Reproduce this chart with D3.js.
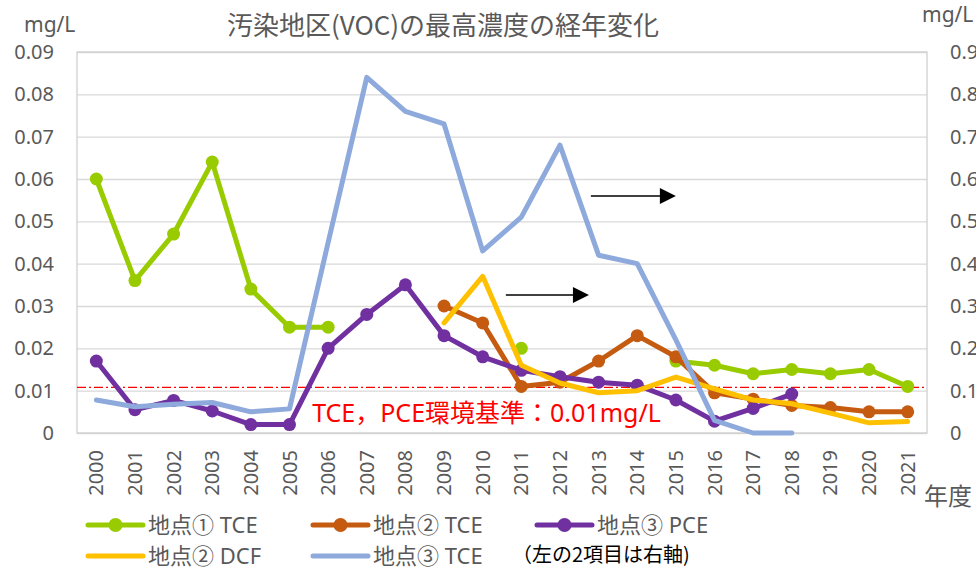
<!DOCTYPE html>
<html>
<head>
<meta charset="utf-8">
<script src="https://cdn.jsdelivr.net/npm/d3@7"></script>
<style>
  body { margin: 0; background: #fff; }
  svg { display: block; }
</style>
</head>
<body>
<div id="chart"></div>
<script>
// Yearly maximum VOC concentration at the polluted sites (mg/L)

var years = [2000, 2001, 2002, 2003, 2004, 2005, 2006, 2007, 2008, 2009, 2010,
             2011, 2012, 2013, 2014, 2015, 2016, 2017, 2018, 2019, 2020, 2021];

var leftTicks = [0, 0.01, 0.02, 0.03, 0.04, 0.05, 0.06, 0.07, 0.08, 0.09];
var rightTicks = [0, 0.1, 0.2, 0.3, 0.4, 0.5, 0.6, 0.7, 0.8, 0.9];

// left axis
var site1TCE = [0.060, 0.036, 0.047, 0.064, 0.034, 0.025, 0.025, null, null, null, null,
                0.020, null, null, null, 0.017, 0.016, 0.014, 0.015, 0.014, 0.015, 0.011];
var site2TCE = [null, null, null, null, null, null, null, null, null, 0.030, 0.026,
                0.011, 0.012, 0.017, 0.023, 0.018, 0.0095, 0.008, 0.0065, 0.006, 0.005, 0.005];
var site3PCE = [0.017, 0.0055, 0.0077, 0.0052, 0.002, 0.002, 0.020, 0.028, 0.035, 0.023, 0.018,
                0.0148, 0.0133, 0.012, 0.0113, 0.0078, 0.0028, 0.0058, 0.0092, null, null, null];
// right axis
var site2DCF = [null, null, null, null, null, null, null, null, null, 0.26, 0.37,
                0.16, 0.118, 0.095, 0.10, 0.132, 0.104, 0.078, 0.069, 0.047, 0.024, 0.027];
var site3TCE = [0.078, 0.062, 0.068, 0.072, 0.050, 0.057, 0.45, 0.84, 0.76, 0.73, 0.43,
                0.51, 0.68, 0.42, 0.40, 0.22, 0.03, 0, 0, null, null, null];

var standardLevel = 0.0108;
var standardLabel = 'TCE，PCE環境基準：0.01mg/L';

// arrows pointing to the right axis: [value on left axis, from year, to year]
var arrowRows = [[0.056, 2012.8, 2015.0], [0.0326, 2010.6, 2012.75]];

var series = [
    { name: '地点① TCE', values: site1TCE, axis: 'left', color: '#99CC00', dots: true },
    { name: '地点② TCE', values: site2TCE, axis: 'left', color: '#C55A11', dots: true },
    { name: '地点③ PCE', values: site3PCE, axis: 'left', color: '#7030A0', dots: true },
    { name: '地点② DCF', values: site2DCF, axis: 'right', color: '#FFC000', dots: false },
    { name: '地点③ TCE', values: site3TCE, axis: 'right', color: '#8EA9DB', dots: false }
];

var width = 976, height = 567;
var plot = { left: 77, right: 927, top: 52, bottom: 433 };
var font = "'Noto Sans', 'Noto Sans CJK JP', sans-serif";
var textColor = '#595959';

var svg = d3.select('#chart').append('svg')
    .attr('width', width)
    .attr('height', height)
    .style('font-family', font);

var x = d3.scaleBand().domain(years).range([plot.left, plot.right]);
function cx(yr) { return x(yr) + x.bandwidth() / 2; }
var xYear = d3.scaleLinear().domain([years[0], years[years.length - 1]])
    .range([cx(years[0]), cx(years[years.length - 1])]);
var yLeft = d3.scaleLinear().domain([0, 0.09]).range([plot.bottom, plot.top]);
var yRight = d3.scaleLinear().domain([0, 0.9]).range([plot.bottom, plot.top]);

// Gridlines
var grid = svg.append('g')
    .attr('transform', 'translate(' + plot.left + ',0)')
    .call(d3.axisLeft(yLeft).tickValues(leftTicks).tickSize(-(plot.right - plot.left)).tickFormat(''));
grid.select('.domain').remove();
grid.selectAll('.tick line').attr('stroke', '#D9D9D9').attr('stroke-width', 1.3);

// Plot border
svg.append('rect')
    .attr('x', plot.left).attr('y', plot.top)
    .attr('width', plot.right - plot.left).attr('height', plot.bottom - plot.top)
    .attr('fill', 'none').attr('stroke', '#D0D0D0').attr('stroke-width', 1.3);

// Value axes (right one runs off the edge, as in the source image)
var fmtLeft = function (d) { return d === 0 ? '0' : d3.format('.2f')(d); };
var fmtRight = function (d) { return d === 0 ? '0' : d3.format('.1f')(d); };
var axL = svg.append('g')
    .attr('transform', 'translate(' + plot.left + ',0)')
    .call(d3.axisLeft(yLeft).tickValues(leftTicks).tickSize(0).tickPadding(23).tickFormat(fmtLeft));
var axR = svg.append('g')
    .attr('transform', 'translate(' + plot.right + ',0)')
    .call(d3.axisRight(yRight).tickValues(rightTicks).tickSize(0).tickPadding(23).tickFormat(fmtRight));
[axL, axR].forEach(function (ax) {
    ax.select('.domain').remove();
    ax.selectAll('text')
        .attr('fill', textColor)
        .attr('font-size', '20px')
        .attr('font-family', font);
});

// X axis (rotated year labels)
var axX = svg.append('g')
    .attr('transform', 'translate(0,' + plot.bottom + ')')
    .call(d3.axisBottom(x).tickSize(0));
axX.select('.domain').remove();
axX.selectAll('text')
    .attr('transform', 'rotate(-90)')
    .attr('x', -17)
    .attr('y', 0)
    .attr('dy', '0.35em')
    .style('text-anchor', 'end')
    .attr('fill', textColor)
    .attr('font-size', '20px')
    .attr('font-family', font);

// Environmental standard line
svg.append('line')
    .attr('x1', plot.left).attr('x2', plot.right)
    .attr('y1', yLeft(standardLevel)).attr('y2', yLeft(standardLevel))
    .attr('stroke', '#FF0000').attr('stroke-width', 1.2)
    .attr('stroke-dasharray', '9,3,2,3');

svg.append('text')
    .attr('x', cx(2006) - 16)
    .attr('y', plot.bottom - 11)
    .attr('fill', '#FF0000')
    .attr('font-size', '25px')
    .text(standardLabel);

// Series lines and markers
series.forEach(function (s) {
    var yS = s.axis === 'left' ? yLeft : yRight;
    var pts = years.map(function (yr, i) { return { year: yr, v: s.values[i] }; });
    var line = d3.line()
        .defined(function (d) { return d.v !== null; })
        .x(function (d) { return cx(d.year); })
        .y(function (d) { return yS(d.v); });
    svg.append('path')
        .datum(pts)
        .attr('d', line)
        .attr('fill', 'none')
        .attr('stroke', s.color)
        .attr('stroke-width', 5)
        .attr('stroke-linejoin', 'round')
        .attr('stroke-linecap', 'round');
    if (s.dots) {
        svg.append('g').selectAll('circle')
            .data(pts.filter(function (d) { return d.v !== null; }))
            .join('circle')
            .attr('cx', function (d) { return cx(d.year); })
            .attr('cy', function (d) { return yS(d.v); })
            .attr('r', 6.5)
            .attr('fill', s.color);
    }
});

// Arrows toward right axis
arrowRows.forEach(function (a) {
    var yy = yLeft(a[0]), x1 = xYear(a[1]), x2 = xYear(a[2]);
    svg.append('line')
        .attr('x1', x1).attr('x2', x2 - 14)
        .attr('y1', yy).attr('y2', yy)
        .attr('stroke', '#000').attr('stroke-width', 1.5);
    svg.append('path')
        .attr('d', 'M' + x2 + ',' + yy + 'L' + (x2 - 16) + ',' + (yy - 8) + 'L' + (x2 - 16) + ',' + (yy + 8) + 'Z')
        .attr('fill', '#000');
});

// Title and axis units
svg.append('text')
    .attr('x', 443).attr('y', 35)
    .attr('text-anchor', 'middle')
    .attr('fill', textColor)
    .attr('font-size', '26px')
    .attr('font-family', "'Noto Sans CJK JP', sans-serif")
    .text('汚染地区(VOC)の最高濃度の経年変化');

svg.append('text').attr('x', 24).attr('y', 32)
    .attr('fill', textColor).attr('font-size', '21px').text('mg/L');
svg.append('text').attr('x', 922).attr('y', 22)
    .attr('fill', textColor).attr('font-size', '21px').text('mg/L');
svg.append('text').attr('x', 924).attr('y', 505)
    .attr('fill', textColor).attr('font-size', '24px')
    .attr('font-family', "'Noto Sans CJK JP', sans-serif").text('年度');

// Legend
var legendCols = [88, 313, 537], legendRows = [525, 556];
series.forEach(function (s, i) {
    var lx = legendCols[i % 3], ly = legendRows[Math.floor(i / 3)];
    var g = svg.append('g').attr('transform', 'translate(' + lx + ',' + ly + ')');
    g.append('line')
        .attr('x1', 0).attr('x2', 55).attr('y1', 0).attr('y2', 0)
        .attr('stroke', s.color).attr('stroke-width', 5).attr('stroke-linecap', 'round');
    if (s.dots) {
        g.append('circle').attr('cx', 27.5).attr('cy', 0).attr('r', 7).attr('fill', s.color);
    }
    g.append('text')
        .attr('x', 60).attr('y', 0).attr('dy', '0.36em')
        .attr('fill', textColor).attr('font-size', '22px')
        .text(s.name);
});

svg.append('text').attr('x', 512).attr('y', 562)
    .attr('fill', '#000').attr('font-size', '20px')
    .attr('font-family', "'Noto Sans CJK JP', sans-serif")
    .text('（左の2項目は右軸)');
</script>
</body>
</html>
